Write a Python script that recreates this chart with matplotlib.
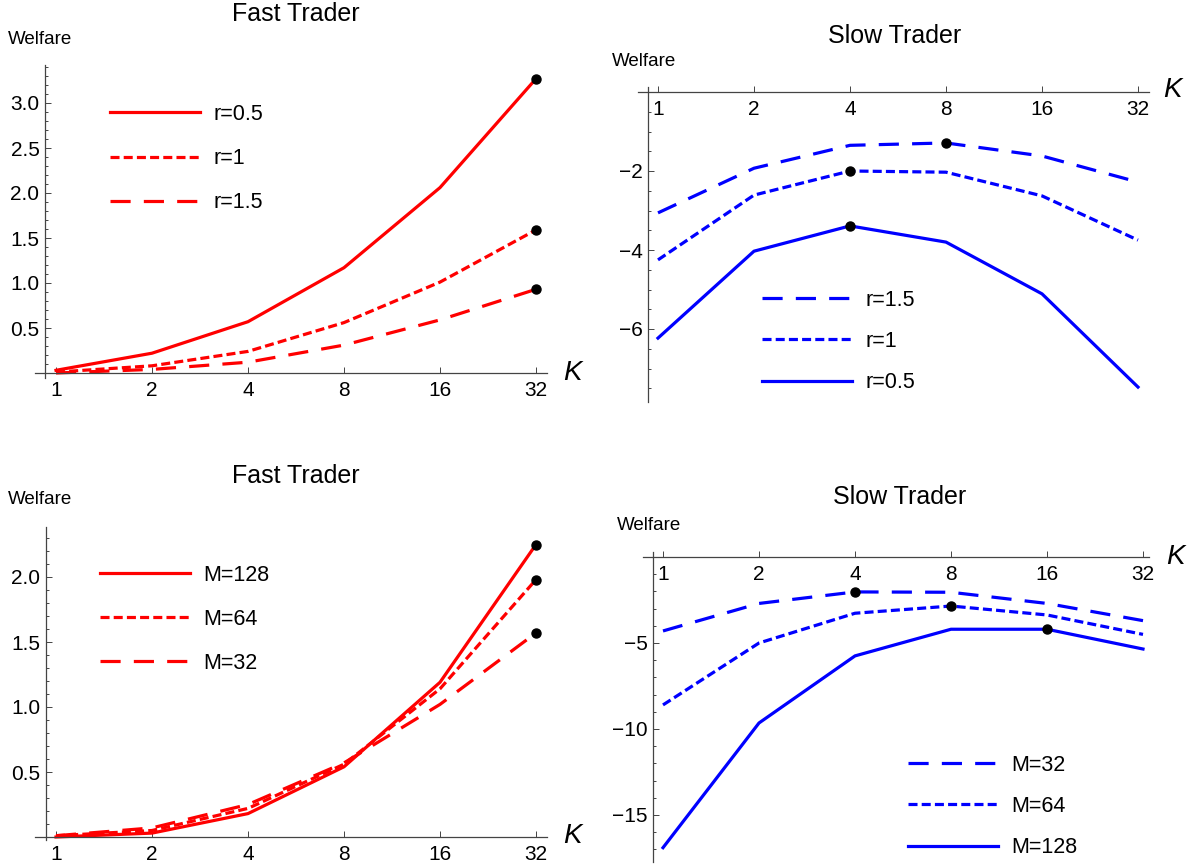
#!/usr/bin/env python3
"""
Welfare of fast / slow traders vs K (four panels, Mathematica-like axes)
"""

import matplotlib
matplotlib.use('Agg')
import matplotlib.pyplot as plt
from matplotlib.ticker import MultipleLocator, NullLocator

plt.rcParams['font.family'] = ['Liberation Sans', 'DejaVu Sans']
plt.rcParams['lines.scale_dashes'] = False

# ============================================================
# DATA
# ============================================================

K = [1, 2, 4, 8, 16, 32]
K_labels = ['1', '2', '4', '8', '16', '32']

# top row: different r
fast_r05 = [0.03, 0.22, 0.57, 1.17, 2.06, 3.27]
fast_r1 = [0.01, 0.08, 0.24, 0.56, 1.01, 1.59]
fast_r15 = [0.00, 0.04, 0.12, 0.31, 0.59, 0.93]
fast_r_opt = [32, 32, 32]

slow_r15 = [-3.06, -1.93, -1.35, -1.29, -1.62, -2.28]
slow_r1 = [-4.25, -2.61, -2.00, -2.03, -2.63, -3.75]
slow_r05 = [-6.23, -4.03, -3.39, -3.80, -5.11, -7.47]
slow_r_opt = [8, 4, 4]          # r=1.5, r=1, r=0.5

# bottom row: different M
fast_M128 = [0.00, 0.03, 0.18, 0.54, 1.19, 2.25]
fast_M64 = [0.01, 0.05, 0.22, 0.56, 1.14, 1.98]
fast_M32 = [0.01, 0.07, 0.25, 0.57, 1.02, 1.57]
fast_M_opt = [32, 32, 32]

slow_M32 = [-4.30, -2.70, -2.03, -2.05, -2.70, -3.70]
slow_M64 = [-8.60, -5.00, -3.27, -2.85, -3.37, -4.50]
slow_M128 = [-16.90, -9.65, -5.75, -4.20, -4.20, -5.35]
slow_M_opt = [4, 8, 16]         # M=32, M=64, M=128

# ============================================================
# STYLE
# ============================================================

RED = '#ff0000'
BLUE = '#0000ff'
AXIS_COL = '#444444'
LW = 2.3
SOLID = (None, None)
SHORT = (6.5, 3.0)
LONG = (14.5, 9.5)

W, H = 1195, 867
fig = plt.figure(figsize=(W / 100, H / 100), dpi=100)
fig.patch.set_facecolor('white')


def px(x, y):
    return x / W, 1 - y / H


def make_panel(left, right, top, bottom, x_one, yaxis_x, y_zero, scale,
               major, minor, fmt):
    """left/right/top/bottom in pixels; x_one = pixel of K=1, 96 px per doubling"""
    ax = fig.add_axes([left / W, 1 - bottom / H, (right - left) / W, (bottom - top) / H])
    ax.set_xscale('log', base=2)
    ax.set_xlim(2 ** ((left - x_one) / 96), 2 ** ((right - x_one) / 96))
    ax.set_ylim((y_zero - bottom) / scale, (y_zero - top) / scale)
    ax.set_xticks(K)
    ax.set_xticklabels(K_labels)
    ax.xaxis.set_minor_locator(NullLocator())
    ax.set_yticks(major)
    ax.set_yticklabels([fmt(v) for v in major])
    ax.yaxis.set_minor_locator(MultipleLocator(minor))
    for s in ['top', 'right']:
        ax.spines[s].set_visible(False)
    ax.spines['bottom'].set_position(('data', 0))
    ax.spines['left'].set_position(('data', 2 ** ((yaxis_x - x_one) / 96)))
    for s in ['bottom', 'left']:
        ax.spines[s].set_color(AXIS_COL)
        ax.spines[s].set_linewidth(0.9)
    ax.tick_params(which='both', direction='in', color=AXIS_COL, width=0.7,
                   labelsize=15, labelcolor='black')
    ax.tick_params(which='major', length=4.3)
    ax.tick_params(which='minor', length=2.5)
    ax.tick_params(axis='x', pad=6)
    ax.tick_params(axis='y', pad=4)
    ax.patch.set_alpha(0)
    return ax


def draw(ax, series, styles, labels, color, opts, legend_xy, spacing):
    for vals, ds, lab, k_opt in zip(series, styles, labels, opts):
        line, = ax.plot(K, vals, color=color, lw=LW, label=lab, clip_on=False)
        if ds != SOLID:
            line.set_dashes(ds)
        ax.plot([k_opt], [vals[K.index(k_opt)]], 'o', color='black',
                markersize=6.5, zorder=5, clip_on=False)
    ax.legend(loc='upper left', bbox_to_anchor=px(*legend_xy),
              bbox_transform=fig.transFigure, frameon=False, fontsize=15.5,
              handlelength=4.2, handletextpad=0.6, labelspacing=spacing,
              borderpad=0, borderaxespad=0)


fmt_pos = lambda v: f'{v:.1f}'
fmt_neg = lambda v: f'\u2212{abs(v):g}'

# top-left: fast trader, r
ax1 = make_panel(35, 547, 65, 378, 56, 45, 373, 90,
                 [0.5, 1.0, 1.5, 2.0, 2.5, 3.0], 0.1, fmt_pos)
draw(ax1, [fast_r05, fast_r1, fast_r15], [SOLID, SHORT, LONG],
     ['r=0.5', 'r=1', 'r=1.5'], RED, fast_r_opt, (110, 104), 1.08)

# top-right: slow trader, r
ax2 = make_panel(638, 1149, 87, 402, 658, 648, 92, 39.5,
                 [-2, -4, -6], 0.5, fmt_neg)
draw(ax2, [slow_r15, slow_r1, slow_r05], [LONG, SHORT, SOLID],
     ['r=1.5', 'r=1', 'r=0.5'], BLUE, slow_r_opt, (762, 290), 0.93)

# bottom-left: fast trader, M
ax3 = make_panel(35, 547, 527, 840, 56, 46, 837, 130,
                 [0.5, 1.0, 1.5, 2.0], 0.1, fmt_pos)
draw(ax3, [fast_M128, fast_M64, fast_M32], [SOLID, SHORT, LONG],
     ['M=128', 'M=64', 'M=32'], RED, fast_M_opt, (100, 565), 1.06)

# bottom-right: slow trader, M
ax4 = make_panel(643, 1149, 552, 862, 663, 653, 557, 17.2,
                 [-5, -10, -15], 1, fmt_neg)
draw(ax4, [slow_M32, slow_M64, slow_M128], [LONG, SHORT, SOLID],
     ['M=32', 'M=64', 'M=128'], BLUE, slow_M_opt, (908, 755), 0.93)

# ============================================================
# TEXT
# ============================================================

for (x, y, t) in [(296, 14, 'Fast Trader'), (895, 36, 'Slow Trader'),
                  (296, 476, 'Fast Trader'), (900, 497, 'Slow Trader')]:
    fig.text(*px(x, y), t, fontsize=18, ha='center', va='center')

for (x, y) in [(8, 40), (612, 61), (8, 500), (617, 526)]:
    fig.text(*px(x, y), 'Welfare', fontsize=13.5, ha='left', va='center')

for (x, y) in [(563, 373), (1163, 90), (563, 836), (1166, 557)]:
    fig.text(*px(x, y), 'K', fontsize=20, style='italic', ha='left', va='center')

plt.savefig('out.png', dpi=100, facecolor='white')
